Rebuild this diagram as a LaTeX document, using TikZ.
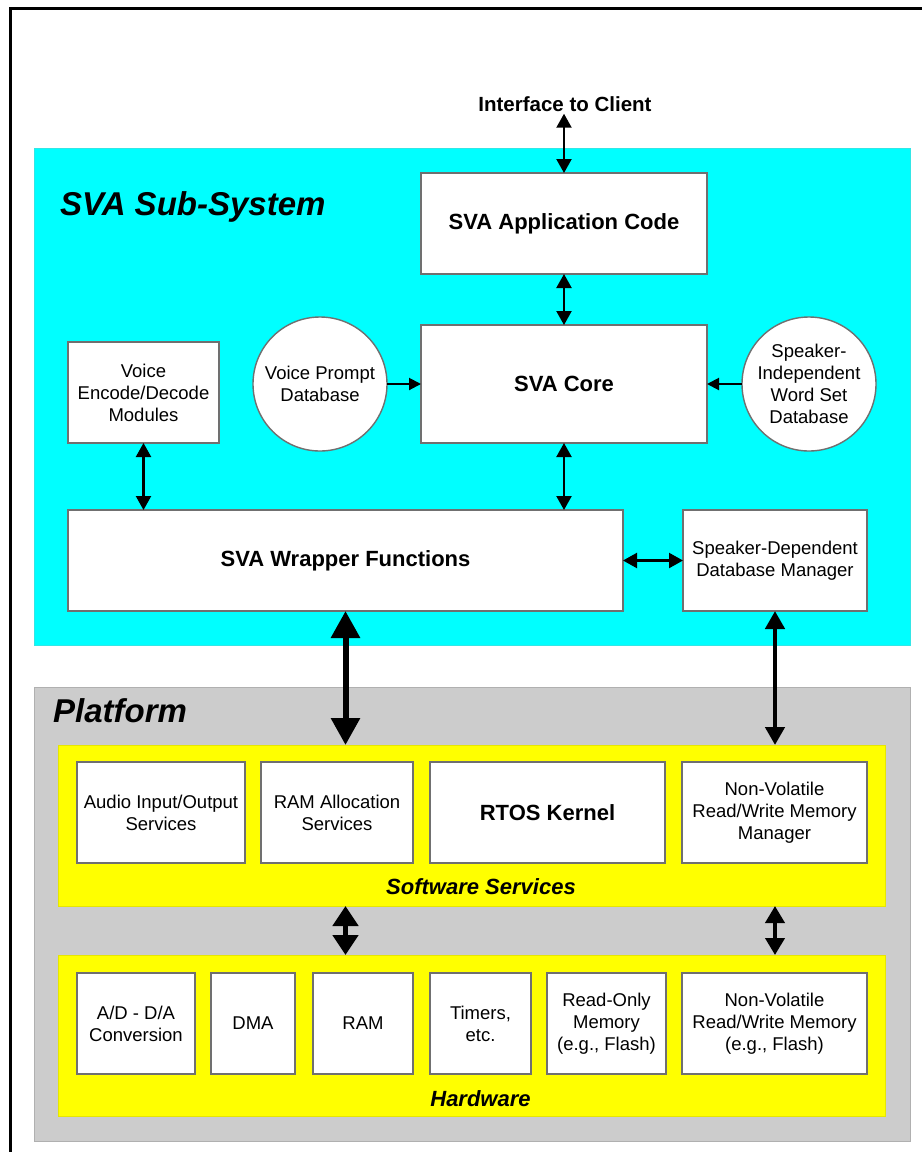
\documentclass[tikz,border=0pt]{standalone}
\usepackage{fontspec}
\setmainfont{Liberation Sans}
\usetikzlibrary{arrows.meta}
\definecolor{subsys}{HTML}{00FFFF}
\definecolor{subsysedge}{HTML}{33E6E6}
\definecolor{platgray}{HTML}{CCCCCC}
\definecolor{platedge}{HTML}{B0B0B0}
\definecolor{svcyellow}{HTML}{FFFF00}
\definecolor{svcedge}{HTML}{E6E600}
\definecolor{boxedge}{HTML}{707070}

\begin{document}
\begin{tikzpicture}[x=1pt,y=-1pt,
  region/.style={anchor=north west, inner sep=0pt, outer sep=0pt, line width=1pt},
  box/.style={draw=boxedge, fill=white, line width=1.4pt, inner sep=0pt, outer sep=0pt,
    align=center, font=\fontsize{18.5}{22}\selectfont},
  bigbox/.style={box, font=\fontsize{22}{26}\selectfont\bfseries},
  dbcircle/.style={box, circle, minimum size=134pt},
  heading/.style={inner sep=0pt, font=\fontsize{33}{39}\selectfont\bfseries\itshape},
  sublabel/.style={inner sep=0pt, font=\fontsize{22}{26}\selectfont\bfseries\itshape},
  lnk/.style={{Triangle[length=14pt,width=15pt]}-{Triangle[length=14pt,width=15pt]}, line width=2.2pt},
  lnkone/.style={-{Triangle[length=12pt,width=12pt]}, line width=2pt},
  heavy/.style={{Triangle[length=27pt,width=28pt]}-{Triangle[length=27pt,width=28pt]}, line width=6pt},
  medium/.style={{Triangle[length=18pt,width=19pt]}-{Triangle[length=18pt,width=19pt]}, line width=4.5pt},
  pairbig/.style={{Triangle[length=20pt,width=25pt]}-{Triangle[length=20pt,width=25pt]}, line width=5pt},
  pairmid/.style={{Triangle[length=17pt,width=19pt]}-{Triangle[length=17pt,width=19pt]}, line width=4pt}
]
\useasboundingbox (0,0) rectangle (922,1152);

% page frame
\draw[line width=3pt, line join=miter] (10.5,1152) -- (10.5,8) -- (922,8);

% background regions
\node[region, fill=subsys, draw=subsysedge, minimum width=876pt, minimum height=497pt] (subsystem) at (34,148) {};
\node[region, fill=platgray, draw=platedge, minimum width=876pt, minimum height=454pt] (platform) at (34,687) {};
\node[region, fill=svcyellow, draw=svcedge, minimum width=827pt, minimum height=161pt] (software) at (58,745) {};
\node[region, fill=svcyellow, draw=svcedge, minimum width=827pt, minimum height=161pt] (hardware) at (58,955) {};

% headings
\node[heading, anchor=west] (subtitle) at (60,207) {SVA Sub-System};
\node[heading, anchor=west] (plattitle) at (53,711) {Platform};
\node[sublabel] (swtitle) at (481,887) {Software Services};
\node[sublabel] (hwtitle) at (480.5,1099) {Hardware};
\node[inner sep=2pt, font=\fontsize{20.5}{24}\selectfont\bfseries] (iface) at (565,104) {Interface to Client};

% SVA sub-system blocks
\node[bigbox, minimum width=286pt, minimum height=101pt] (app) at (564,223.5) {SVA Application Code};
\node[bigbox, minimum width=286pt, minimum height=118pt] (core) at (564,384) {SVA Core};
\node[box, minimum width=151pt, minimum height=101pt] (enc) at (143.5,392.5) {Voice\\Encode/Decode\\Modules};
\node[dbcircle] (vprompt) at (320,384) {Voice Prompt\\Database};
\node[dbcircle] (sidb) at (809,384) {Speaker-\\Independent\\Word Set\\Database};
\node[bigbox, minimum width=555pt, minimum height=101pt] (wrap) at (345.5,560.5) {SVA Wrapper Functions};
\node[box, minimum width=184pt, minimum height=101pt] (sdmgr) at (775,560.5) {Speaker-Dependent\\Database Manager};

% software services
\node[box, minimum width=168pt, minimum height=101pt] (audio) at (161,812.5) {Audio Input/Output\\Services};
\node[box, minimum width=152pt, minimum height=101pt] (ramalloc) at (337,812.5) {RAM Allocation\\Services};
\node[bigbox, minimum width=235pt, minimum height=101pt] (rtos) at (547.5,812.5) {RTOS Kernel};
\node[box, minimum width=185pt, minimum height=101pt] (nvmgr) at (774.5,812.5) {Non-Volatile\\Read/Write Memory\\Manager};

% hardware
\node[box, minimum width=118pt, minimum height=101pt] (adda) at (136,1023.5) {A/D - D/A\\Conversion};
\node[box, minimum width=84pt, minimum height=101pt] (dma) at (253,1023.5) {DMA};
\node[box, minimum width=100pt, minimum height=101pt] (ram) at (363,1023.5) {RAM};
\node[box, minimum width=101pt, minimum height=101pt] (timers) at (480.5,1023.5) {Timers,\\etc.};
\node[box, minimum width=119pt, minimum height=101pt] (rom) at (606.5,1023.5) {Read-Only\\Memory\\(e.g., Flash)};
\node[box, minimum width=185pt, minimum height=101pt] (nvmem) at (774.5,1023.5) {Non-Volatile\\Read/Write Memory\\(e.g., Flash)};

% connectors inside the sub-system
\coordinate (ifacefoot) at (iface.south -| app.north);
\draw[lnk] (ifacefoot) -- (app.north);
\draw[lnk] (app.south) -- (core.north);
\draw[lnkone] (vprompt.east) -- (core.west);
\draw[lnkone] (sidb.west) -- (core.east);
\draw[lnk] (enc.south) -- (enc.south |- wrap.north);
\draw[lnk] (core.south) -- (core.south |- wrap.north);
\draw[lnk] (wrap.east |- sdmgr.west) -- (sdmgr.west);

% connectors to the platform
\draw[heavy] (wrap.south) -- (wrap.south |- software.north);
\draw[medium] (sdmgr.south) -- (sdmgr.south |- software.north);
\draw[pairbig] (wrap.south |- software.south) -- (wrap.south |- hardware.north);
\draw[pairmid] (sdmgr.south |- software.south) -- (sdmgr.south |- hardware.north);
\end{tikzpicture}
\end{document}
